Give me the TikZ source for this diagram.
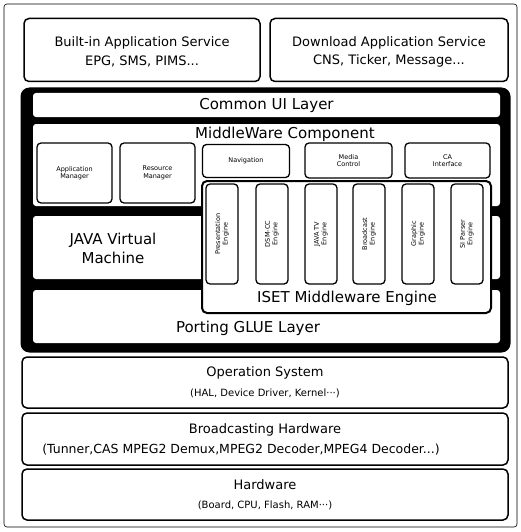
\documentclass[tikz,border=0pt]{standalone}
\usepackage{fontspec}
\setmainfont{DejaVu Sans}
\usepackage{tikz}
\usetikzlibrary{positioning}

\begin{document}
\begin{tikzpicture}[x=1pt, y=-1pt,
    framebox/.style={draw, line width=0.6pt, rounded corners=3pt, inner sep=0pt},
    layerbox/.style={draw, line width=1.5pt, rounded corners=5pt, fill=white, inner sep=0pt},
    blackbox/.style={fill=black, rounded corners=9pt, inner sep=0pt},
    whitebox/.style={fill=white, rounded corners=3pt, inner sep=0pt},
    modbox/.style={draw, line width=1.3pt, rounded corners=4pt, fill=white, inner sep=0pt, align=center, font=\fontsize{6.5}{7.5}\selectfont},
    enginebox/.style={draw, line width=1.3pt, rounded corners=4pt, fill=white, inner sep=0pt, minimum width=100pt, minimum height=32pt, align=center, font=\fontsize{6.5}{7.5}\selectfont, rotate=90},
    maintext/.style={font=\fontsize{13}{15}\selectfont},
    mwtext/.style={font=\fontsize{15}{19}\selectfont},
    subtext/.style={font=\fontsize{10}{12}\selectfont}
]
    \useasboundingbox (0,0) rectangle (521,532);

    % Outer frame
    \node[framebox, minimum width=513pt, minimum height=523pt] (outer) at (260.5,265.5) {};

    % Application services
    \node[layerbox, minimum width=236pt, minimum height=63pt] (builtin) at (142,50) {};
    \node[maintext] (builtinT) at (142,43) {Built-in Application Service};
    \node[maintext] (builtinS) at (142,61) {EPG, SMS, PIMS...};
    \node[layerbox, minimum width=238pt, minimum height=63pt] (download) at (389,50) {};
    \node[maintext] (downloadT) at (389,43) {Download Application Service};
    \node[maintext] (downloadS) at (389,61) {CNS, Ticker, Message...};

    % Middleware block
    \node[blackbox, minimum width=490pt, minimum height=265pt] (mw) at (265.5,220) {};
    \node[whitebox, minimum width=467pt, minimum height=24pt] (commonui) at (266.5,105) {};
    \node[mwtext] (commonuiT) at (266.5,105) {Common UI Layer};
    \node[whitebox, minimum width=467pt, minimum height=82pt] (mwcomp) at (266.5,165) {};
    \node[mwtext] (mwcompT) at (285,134) {MiddleWare Component};
    \node[whitebox, minimum width=467pt, minimum height=63pt] (jvm) at (266.5,247.5) {};
    \node[mwtext, align=center] (jvmT) at (113,248) {JAVA Virtual\\Machine};
    \node[whitebox, minimum width=467pt, minimum height=53pt] (glue) at (266.5,316.5) {};
    \node[mwtext] (glueT) at (248,328) {Porting GLUE Layer};

    % Middleware modules
    \node[modbox, minimum width=75pt, minimum height=60pt] (appmgr) at (74.5,173) {Application\\Manager};
    \node[modbox, minimum width=75pt, minimum height=60pt] (resmgr) at (157.5,173) {Resource\\Manager};
    \node[modbox, minimum width=87pt, minimum height=33pt] (navi) at (246,161) {Navigation};
    \node[modbox, minimum width=87pt, minimum height=35pt] (media) at (348.5,160.5) {Media\\Control};
    \node[modbox, minimum width=85pt, minimum height=35pt] (ca) at (447.5,160.5) {CA\\Interface};

    % ISET engine
    \node[layerbox, line width=2pt, minimum width=289pt, minimum height=132pt] (iset) at (346.5,247) {};
    \node[mwtext] (isetT) at (347,298) {ISET Middleware Engine};
    \node[enginebox] (eng1) at (222,234) {Presentation\\Engine};
    \node[enginebox] (eng2) at (272,234) {DSM-CC\\Engine};
    \node[enginebox] (eng3) at (321,234) {JAVA TV\\Engine};
    \node[enginebox] (eng4) at (369,234) {Broadcast\\Engine};
    \node[enginebox] (eng5) at (418,234) {Graphic\\Engine};
    \node[enginebox] (eng6) at (467,234) {SI Parser\\Engine};

    % Lower layers
    \node[layerbox, minimum width=486pt, minimum height=51pt] (os) at (265,382.5) {};
    \node[maintext] (osT) at (265,373) {Operation System};
    \node[subtext] (osS) at (265,393) {(HAL, Device Driver, Kernel···)};
    \node[layerbox, minimum width=486pt, minimum height=52pt] (bcast) at (265,439) {};
    \node[maintext] (bcastT) at (265,430) {Broadcasting Hardware};
    \node[subtext, font=\fontsize{12.5}{14}\selectfont] (bcastS) at (241,450) {(Tunner,CAS MPEG2 Demux,MPEG2 Decoder,MPEG4 Decoder...)};
    \node[layerbox, minimum width=486pt, minimum height=51pt] (hw) at (265,494.5) {};
    \node[maintext] (hwT) at (265,485) {Hardware};
    \node[subtext] (hwS) at (265,505) {(Board, CPU, Flash, RAM···)};
\end{tikzpicture}
\end{document}
